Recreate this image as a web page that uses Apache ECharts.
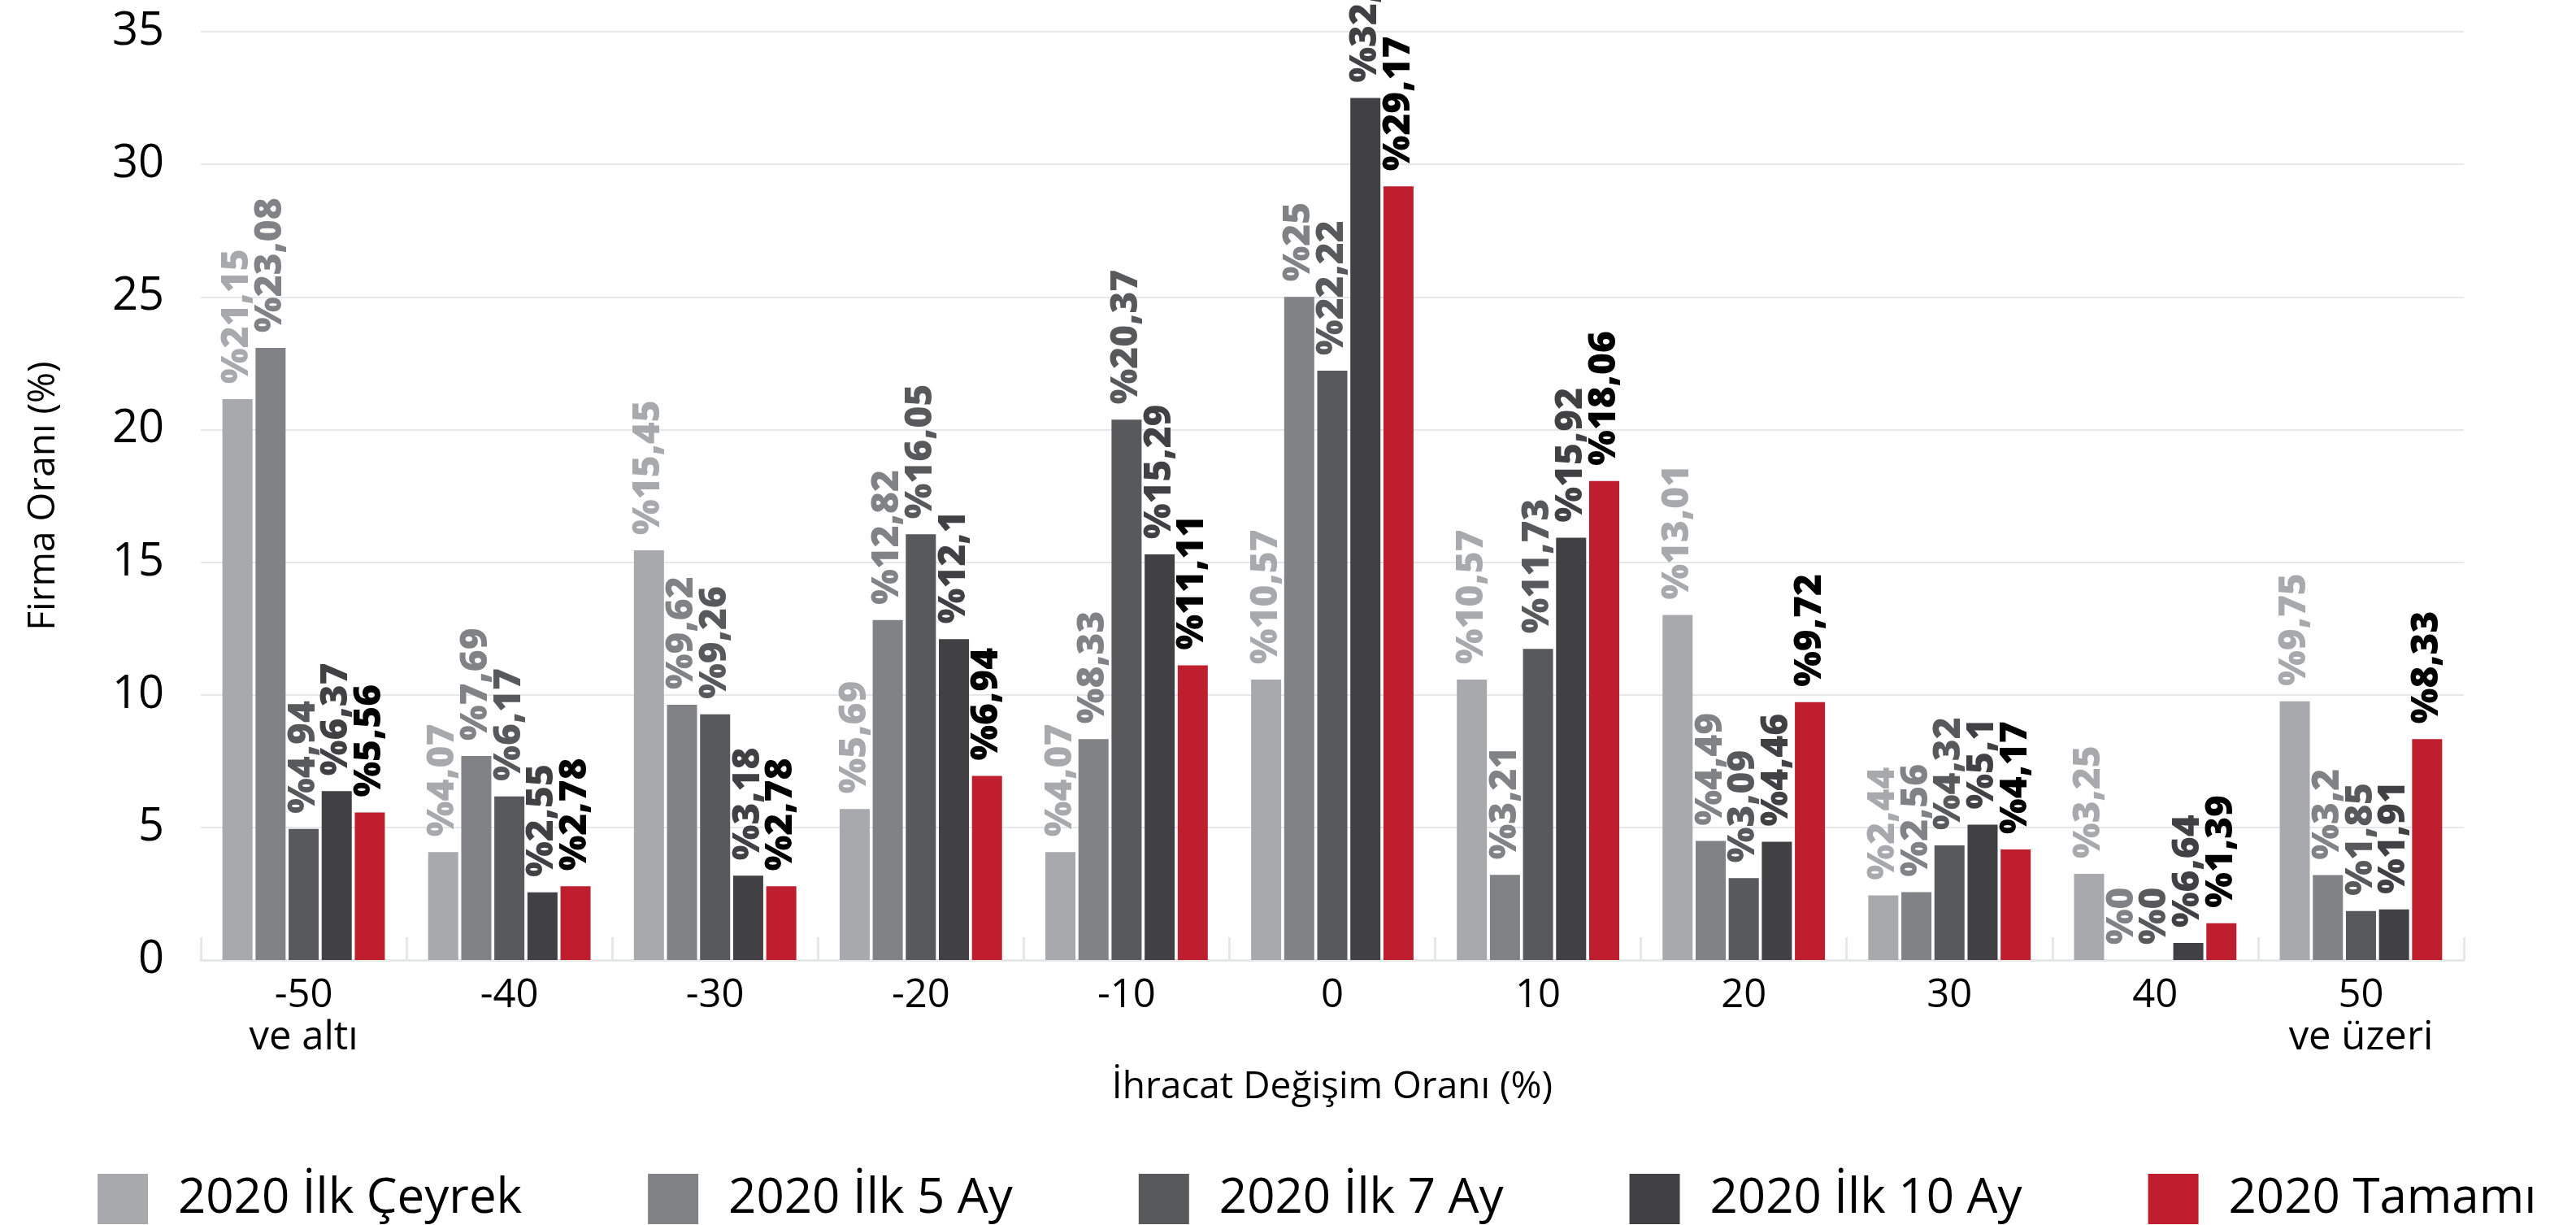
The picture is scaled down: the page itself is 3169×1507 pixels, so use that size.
<!DOCTYPE html>
<html>
<head>
<meta charset="utf-8">
<script src="https://cdn.jsdelivr.net/npm/echarts@6/dist/echarts.min.js"></script>
<style>
html,body{margin:0;padding:0;background:#fff;}
#chart{width:3169px;height:1507px;}
</style>
</head>
<body>
<div id="chart"></div>
<script>
const categories = ['-50\nve altı', '-40', '-30', '-20', '-10', '0', '10', '20', '30', '40', '50\nve üzeri'];
const seriesNames = ['2020 İlk Çeyrek', '2020 İlk 5 Ay', '2020 İlk 7 Ay', '2020 İlk 10 Ay', '2020 Tamamı'];
const q1Values   = [21.15, 4.07, 15.45, 5.69, 4.07, 10.57, 10.57, 13.01, 2.44, 3.25, 9.75];
const m5Values   = [23.08, 7.69, 9.62, 12.82, 8.33, 25, 3.21, 4.49, 2.56, 0, 3.2];
const m7Values   = [4.94, 6.17, 9.26, 16.05, 20.37, 22.22, 11.73, 3.09, 4.32, 0, 1.85];
const m10Values  = [6.37, 2.55, 3.18, 12.1, 15.29, 32.5, 15.92, 4.46, 5.1, 0.64, 1.91];
const fullValues = [5.56, 2.78, 2.78, 6.94, 11.11, 29.17, 18.06, 9.72, 4.17, 1.39, 8.33];
// label text printed in the source differs from the bar height here
const m10LabelText = [null, null, null, null, null, null, null, null, null, '%6,64', null];
const yTicks = [0, 5, 10, 15, 20, 25, 30, 35];

const barColors = ['#a7a9ac', '#808285', '#58595b', '#414042', '#be1e2d'];
const labelColors = ['#a7a9ac', '#808285', '#58595b', '#414042', '#000000'];
const allValues = [q1Values, m5Values, m7Values, m10Values, fullValues];
const labelOverrides = [null, null, null, m10LabelText, null];

const FONT = '"Open Sans", sans-serif';

function fmt(v) { return '%' + String(v).replace('.', ','); }

const series = seriesNames.map((name, i) => ({
  name: name,
  type: 'bar',
  data: allValues[i],
  barWidth: 37,
  barGap: '10%',
  itemStyle: { color: barColors[i] },
  label: {
    show: true,
    position: 'top',
    rotate: 90,
    align: 'left',
    verticalAlign: 'middle',
    distance: 19,
    color: labelColors[i],
    fontFamily: FONT,
    fontWeight: 800,
    fontSize: 46,
    formatter: p => {
      const o = labelOverrides[i];
      if (o && o[p.dataIndex]) return o[p.dataIndex];
      return fmt(p.value);
    }
  }
}));

const chart = echarts.init(document.getElementById('chart'), null, { renderer: 'canvas' });
chart.setOption({
  animation: false,
  backgroundColor: '#ffffff',
  color: barColors,
  grid: { left: 247, right: 138, top: 39, bottom: 326, containLabel: false },
  legend: {
    data: seriesNames,
    left: 115,
    top: 1439,
    icon: 'rect',
    itemWidth: 62,
    itemHeight: 62,
    itemGap: 155,
    textStyle: { fontFamily: FONT, fontSize: 60, color: '#000', padding: [0, 0, 0, 32] }
  },
  xAxis: {
    type: 'category',
    data: categories,
    name: 'İhracat Değişim Oranı (%)',
    nameLocation: 'middle',
    nameGap: 134,
    nameTextStyle: { fontFamily: FONT, fontSize: 46, color: '#000' },
    axisLine: { show: true, lineStyle: { color: '#e6e7e8', width: 3 } },
    axisTick: { show: true, inside: true, length: 28, lineStyle: { color: '#e6e7e8', width: 3 } },
    axisLabel: { fontFamily: FONT, fontSize: 49, color: '#000', lineHeight: 52, margin: 18 }
  },
  yAxis: {
    type: 'value',
    min: yTicks[0],
    max: yTicks[yTicks.length - 1],
    interval: 5,
    name: 'Firma Oranı (%)',
    nameLocation: 'middle',
    nameGap: 170,
    nameTextStyle: { fontFamily: FONT, fontSize: 46, color: '#000' },
    axisLine: { show: false },
    axisTick: { show: false },
    splitLine: { show: true, lineStyle: { color: '#e6e7e8', width: 2 } },
    axisLabel: { fontFamily: FONT, fontSize: 56, color: '#000', margin: 45 }
  },
  series: series
});
</script>
</body>
</html>
